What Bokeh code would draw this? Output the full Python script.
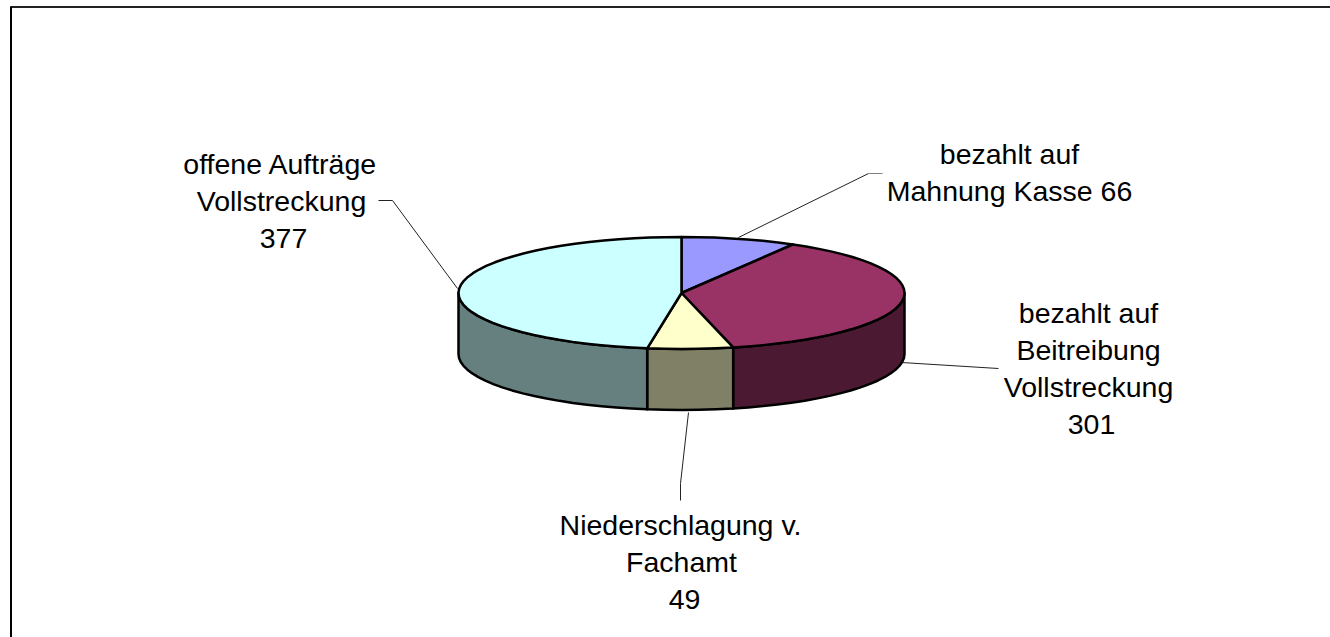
import math
from bokeh.plotting import figure
from bokeh.models import Range1d, ColumnDataSource
from bokeh.core.properties import value
from bokeh.embed import file_html
from bokeh.resources import INLINE

categories = ["bezahlt auf Mahnung Kasse", "bezahlt auf Beitreibung Vollstreckung",
              "Niederschlagung v. Fachamt", "offene Aufträge Vollstreckung"]
values = [66, 301, 49, 377]
top_colors = ["#9999FF", "#993366", "#FFFFCC", "#CCFFFF"]
side_colors = ["#4D4D80", "#4C1933", "#808066", "#668080"]
label_lines = [["bezahlt auf", "Mahnung Kasse 66"],
               ["bezahlt auf", "Beitreibung", "Vollstreckung", "301"],
               ["Niederschlagung v.", "Fachamt", "49"],
               ["offene Aufträge", "Vollstreckung", "377"]]

# layout (screen pixels of the picture)
CX, CY, RX, RY, DEPTH = 681, 292.5, 223, 56, 61
X0, X1, Y0, Y1 = 0, 1330, 0, 637
label_centers = [[1009, 1009], [1088, 1088, 1088, 1091], [680, 681, 684], [280, 281, 283]]
label_baselines = [153, 312, 524, 163]
LINE_STEP = 37.3
leaders = [([738, 868], [237, 173]),
           ([901, 998], [362, 368]),
           ([688, 680, 680], [412, 483, 500]),
           ([378, 392, 457], [200, 200, 288])]
stubs = [([868, 882], [173, 173])]

p = figure(width=X1 - X0, height=Y1 - Y0, output_backend="svg", toolbar_location=None,
           x_range=Range1d(X0, X1), y_range=Range1d(Y1, Y0), min_border=0,
           background_fill_color="white", border_fill_color="white")
p.axis.visible = False
p.grid.visible = False
p.outline_line_color = None


def pt(theta, dy=0.0):
    return CX + RX * math.sin(theta), CY - RY * math.cos(theta) + dy


def arc(a, b):
    n = max(2, int(abs(b - a) / math.radians(4)))
    return [a + (b - a) * i / n for i in range(n + 1)]


total = sum(values)
starts, ends, acc = [], [], 0
for v in values:
    starts.append(2 * math.pi * acc / total)
    acc += v
    ends.append(2 * math.pi * acc / total)

# frame
p.line([10, X1], [6.5, 6.5], line_color="#222222", line_width=2)
p.line([10.5, 10.5], [6, Y1], line_color="black", line_width=2)

# leader lines
for lx, ly in leaders:
    p.line(lx, ly, line_color="#222222", line_width=1)
for lx, ly in stubs:
    p.line(lx, ly, line_color="#808080", line_width=1)

# front walls
for a, b, c in zip(starts, ends, side_colors):
    lo, hi = max(a, math.pi / 2), min(b, 3 * math.pi / 2)
    if lo >= hi:
        continue
    ts = arc(lo, hi)
    upper = [pt(t) for t in ts]
    lower = [pt(t, DEPTH) for t in reversed(ts)]
    xs = [q[0] for q in upper + lower]
    ys = [q[1] for q in upper + lower]
    p.patch(xs, ys, fill_color=c, line_color="black", line_width=2.5, line_join="round")

# top face
for a, b, c in zip(starts, ends, top_colors):
    rim = [pt(t) for t in arc(a, b)]
    xs = [CX] + [q[0] for q in rim]
    ys = [CY] + [q[1] for q in rim]
    p.patch(xs, ys, fill_color=c, line_color="black", line_width=2.5, line_join="round")

# labels
tx, ty, tt = [], [], []
for lines, cxs, base in zip(label_lines, label_centers, label_baselines):
    for i, (s, cx) in enumerate(zip(lines, cxs)):
        tx.append(cx)
        ty.append(base + i * LINE_STEP)
        tt.append(s)
src = ColumnDataSource(dict(x=tx, y=ty, t=tt))
p.text("x", "y", text="t", source=src, text_font=value("Liberation Sans"),
       text_font_size="28.5px", text_color="black", text_align="center",
       text_baseline="alphabetic")

open("out.html", "w").write(file_html(p, INLINE))
